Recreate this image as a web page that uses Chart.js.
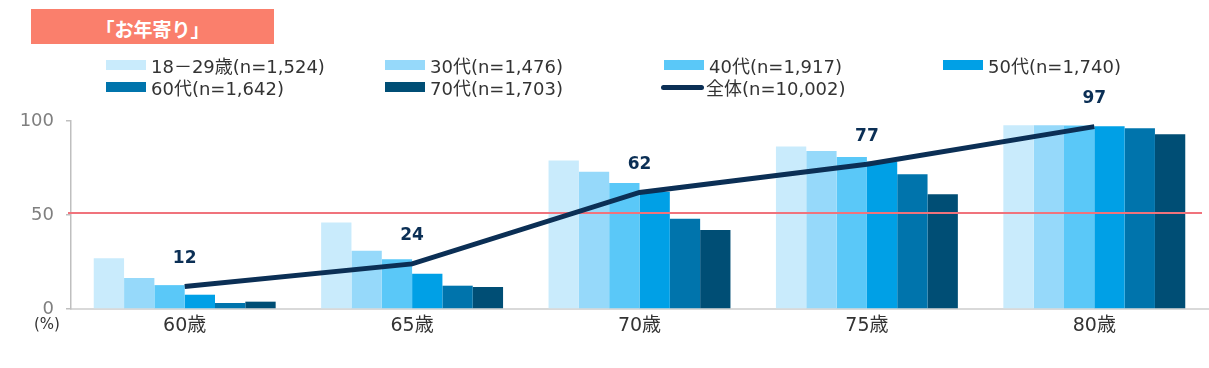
<!DOCTYPE html>
<html lang="ja">
<head>
<meta charset="utf-8">
<script src="https://cdn.jsdelivr.net/npm/chart.js@4"></script>
<style>
  body { margin: 0; background: #fff; font-family: "DejaVu Sans", "Noto Sans CJK JP", sans-serif; }
  #wrap { position: relative; width: 1209px; height: 368px; overflow: hidden; }
  #myChart { position: absolute; left: 0; top: 0; }
  #title { position: absolute; left: 31px; top: 9px; width: 243px; height: 35px; background: #FA7F6C;
    color: #fff; font-weight: bold; font-size: 19px; font-family: "Noto Sans CJK JP", sans-serif;
    display: flex; align-items: center; justify-content: center; box-sizing: border-box; padding-top: 4px; }
  .legendItem { position: absolute; height: 22px; display: flex; align-items: center; font-size: 18px; color: #333; white-space: nowrap; }
  #pct { position: absolute; left: 34px; top: 315px; font-size: 15px; color: #333; }
</style>
</head>
<body>
<div id="wrap">
  <canvas id="myChart" width="1209" height="368"></canvas>
  <div id="title">「お年寄り」</div>
  <div id="legend"></div>
  <div id="pct">(%)</div>
</div>
<script>
// Global Variables
let ageLabels = ['60歳', '65歳', '70歳', '75歳', '80歳'];
let seriesNames = ['18－29歳(n=1,524)', '30代(n=1,476)', '40代(n=1,917)', '50代(n=1,740)', '60代(n=1,642)', '70代(n=1,703)'];
let seriesColors = ['#C9EBFC', '#96D9FA', '#5AC8F8', '#00A0E6', '#0074AC', '#004E75'];
let age1829 = [27, 46, 79, 86.5, 97.7];
let age30s = [16.5, 31, 73, 84, 97.7];
let age40s = [12.7, 26.5, 67, 80.8, 97.6];
let age50s = [7.6, 18.7, 62.4, 78.3, 97.2];
let age60s = [3.2, 12.4, 48, 71.7, 96.1];
let age70s = [3.9, 11.7, 42, 61, 92.9];
let totalName = '全体(n=10,002)';
let totalValues = [12, 24, 62, 77, 97];
let totalColor = '#0B2F55';
let yTicks = [0, 50, 100];
let refValue = 51;

let barValues = [age1829, age30s, age40s, age50s, age60s, age70s];
let fontFam = '"DejaVu Sans", "Noto Sans CJK JP", sans-serif';

// legend
let legendBox = document.getElementById('legend');
let legendCols = [106, 385, 664, 943];
let legendRows = [54, 76];
function addLegend(i, name, color, isLine) {
  let div = document.createElement('div');
  div.className = 'legendItem';
  div.style.left = legendCols[i % 4] + 'px';
  div.style.top = legendRows[Math.floor(i / 4)] + 'px';
  let mark = document.createElement('div');
  if (isLine) {
    mark.style.cssText = 'width:43px;height:5px;border-radius:3px;margin-left:-3px;margin-right:2px;background:' + color;
  } else {
    mark.style.cssText = 'width:40px;height:10px;margin-right:5px;background:' + color;
  }
  let txt = document.createElement('div');
  txt.textContent = name;
  div.appendChild(mark);
  div.appendChild(txt);
  legendBox.appendChild(div);
}
for (let i = 0; i < seriesNames.length; i++) {
  addLegend(i, seriesNames[i], seriesColors[i], false);
}
addLegend(seriesNames.length, totalName, totalColor, true);

// datasets
let datasets = [];
for (let i = 0; i < seriesNames.length; i++) {
  datasets.push({
    type: 'bar',
    label: seriesNames[i],
    data: barValues[i],
    backgroundColor: seriesColors[i],
    borderWidth: 0,
    categoryPercentage: 0.8,
    barPercentage: 1.0,
    order: 1
  });
}
datasets.push({
  type: 'line',
  label: totalName,
  data: totalValues,
  borderColor: totalColor,
  borderWidth: 5,
  pointRadius: 0,
  tension: 0,
  order: 0
});

let lineIndex = datasets.length - 1;

let refLine = {
  id: 'refLine',
  beforeDatasetDraw(chart, args) {
    if (args.index !== lineIndex) return;
    let ctx = chart.ctx;
    let y = chart.scales.y.getPixelForValue(refValue);
    ctx.save();
    ctx.strokeStyle = '#F0737C';
    ctx.lineWidth = 2;
    ctx.beginPath();
    ctx.moveTo(chart.chartArea.left - 3, y);
    ctx.lineTo(chart.chartArea.right - 6, y);
    ctx.stroke();
    ctx.restore();
  }
};

let valueLabels = {
  id: 'valueLabels',
  afterDatasetsDraw(chart) {
    let ctx = chart.ctx;
    let meta = chart.getDatasetMeta(lineIndex);
    ctx.save();
    ctx.font = 'bold 17px ' + fontFam;
    ctx.fillStyle = totalColor;
    ctx.textAlign = 'center';
    ctx.textBaseline = 'middle';
    meta.data.forEach((pt, i) => {
      ctx.fillText(totalValues[i], pt.x, pt.y - 28);
    });
    ctx.restore();
  }
};

let ctx = document.getElementById('myChart').getContext('2d');
let myChart = new Chart(ctx, {
  data: {
    labels: ageLabels,
    datasets: datasets
  },
  options: {
    responsive: false,
    animation: false,
    layout: { padding: { top: 121, left: 0, right: 1, bottom: 0 } },
    plugins: {
      legend: { display: false },
      tooltip: { enabled: false }
    },
    scales: {
      x: {
        grid: { display: false, drawTicks: false },
        border: { display: true, color: '#D9D9D9', width: 2 },
        ticks: { color: '#333', font: { size: 19, family: fontFam }, padding: 6 },
        afterFit: s => { s.height = 59; }
      },
      y: {
        min: 0,
        max: 100,
        afterBuildTicks: s => { s.ticks = yTicks.map(v => ({ value: v })); },
        grid: { drawOnChartArea: false, tickLength: 5, color: '#BFBFBF', lineWidth: 1.5 },
        border: { display: true, color: '#BFBFBF', width: 1.5 },
        ticks: { color: '#7F7F7F', font: { size: 18, family: fontFam }, padding: 12 },
        afterFit: s => { s.width = 71; }
      }
    }
  },
  plugins: [refLine, valueLabels]
});
</script>
</body>
</html>
